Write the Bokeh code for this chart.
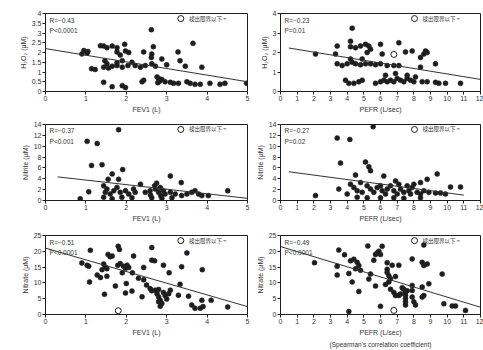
from bokeh.plotting import figure
from bokeh.layouts import column, row
from bokeh.models import Range1d, FixedTicker, Title
from bokeh.core.properties import value
from bokeh.embed import file_html
from bokeh.resources import INLINE

FONT = "Liberation Sans"
INK = "#1e1e1e"

# ---------------- data ----------------
fev1_ticks = [0, 1, 2, 3, 4, 5]
pefr_ticks = list(range(0, 13))
h2o2_left_ticks = [0, 0.5, 1, 1.5, 2, 2.5, 3, 3.5, 4]
h2o2_right_ticks = [0, 1, 2, 3, 4]
nitrite_ticks = [0, 2, 4, 6, 8, 10, 12, 14]
nitrate_ticks = [0, 5, 10, 15, 20, 25]

fev1_h2o2 = [(2.62, 3.17), (3.65, 2.47), (1.96, 2.42), (1.36, 2.35), (1.44, 2.33), (1.52, 2.25),
             (1.65, 2.33), (1.77, 2.25), (2.67, 2.30), (1.77, 2.03), (1.85, 1.87), (1.98, 2.08),
             (2.06, 2.00), (0.90, 1.92), (1.03, 1.97), (2.43, 2.03), (2.63, 1.92), (2.62, 1.75),
             (3.28, 2.03), (2.88, 1.67), (3.33, 1.58), (1.47, 1.58), (1.52, 1.42), (1.77, 1.47),
             (1.90, 1.58), (2.14, 1.50), (1.14, 1.17), (1.23, 1.13), (1.44, 1.25), (1.56, 1.20),
             (1.65, 1.30), (1.77, 1.33), (1.90, 1.25), (2.04, 1.33), (2.22, 1.33), (2.35, 1.25),
             (2.47, 1.33), (2.63, 1.42), (2.72, 1.30), (3.00, 1.37), (3.46, 1.30), (3.87, 1.25),
             (1.44, 0.47), (1.65, 0.25), (1.90, 0.30), (1.98, 0.20), (2.39, 0.50), (2.43, 0.58),
             (2.76, 0.75), (2.80, 0.67), (2.84, 0.58), (2.88, 0.62), (2.96, 0.50), (3.09, 0.47),
             (3.17, 0.42), (2.78, 0.45), (2.82, 0.52), (3.29, 0.42), (3.50, 0.50), (3.58, 0.42),
             (3.70, 0.37), (3.83, 0.37), (4.07, 0.42), (4.32, 0.37), (4.44, 0.42), (4.98, 0.42),
             (0.95, 2.10), (1.05, 2.05)]
fev1_h2o2_open = []

pefr_h2o2 = [(4.3, 3.25), (4.2, 2.58), (2.1, 1.92), (3.4, 2.33), (3.3, 1.92), (4.2, 2.30), (4.5, 2.25),
             (4.8, 2.33), (5.1, 2.42), (5.3, 2.33), (5.4, 2.17), (5.2, 2.00), (6.0, 2.42), (6.1, 1.92),
             (7.1, 2.50), (7.5, 2.03), (7.9, 2.08), (8.4, 1.75), (8.6, 1.92), (8.7, 2.08), (8.8, 2.00),
             (3.4, 1.42), (3.7, 1.33), (4.0, 1.42), (4.3, 1.50), (4.5, 1.42), (4.8, 1.37), (5.1, 1.42),
             (5.4, 1.42), (5.7, 1.37), (6.0, 1.42), (6.4, 1.33), (6.8, 1.33), (7.1, 1.33), (4.2, 1.67),
             (4.9, 1.67), (8.4, 1.25), (9.3, 1.42), (3.9, 0.58), (4.1, 0.42), (4.4, 0.42), (4.7, 0.50),
             (4.9, 0.58), (5.7, 0.42), (6.0, 0.50), (6.2, 0.58), (6.4, 0.50), (6.6, 0.58), (6.8, 0.50),
             (7.0, 0.67), (7.2, 0.58), (7.4, 0.50), (7.6, 0.67), (7.8, 0.58), (8.0, 0.50), (8.1, 0.75),
             (7.6, 0.83), (8.5, 0.50), (8.8, 0.50), (9.3, 0.47), (9.5, 0.42), (9.9, 0.42), (10.8, 0.42),
             (6.3, 0.83), (6.9, 0.92)]
pefr_h2o2_open = [(6.8, 1.9)]

fev1_nitrite = [(1.81, 13.05), (1.03, 10.9), (1.28, 10.5), (1.14, 6.46), (1.40, 6.6), (1.91, 5.7),
                (1.65, 4.9), (1.55, 3.9), (1.81, 3.9), (3.09, 4.5), (3.36, 3.3), (2.35, 3.0),
                (1.07, 1.6), (0.86, 0.3), (4.51, 1.8), (1.44, 2.7), (1.52, 2.1), (1.48, 1.5),
                (1.60, 1.2), (1.69, 1.8), (1.77, 2.4), (1.85, 1.5), (1.98, 1.8), (2.06, 1.2),
                (2.18, 2.1), (2.22, 1.5), (2.47, 1.5), (2.59, 1.8), (2.72, 2.1), (2.80, 1.5),
                (2.84, 2.4), (2.92, 1.8), (2.96, 1.2), (3.09, 1.5), (3.21, 1.2), (3.37, 0.9),
                (3.50, 1.2), (3.62, 1.5), (3.70, 1.8), (3.79, 1.2), (3.87, 0.9), (4.03, 0.9),
                (1.44, 0.6), (1.65, 0.3), (1.89, 0.6), (2.14, 0.5), (2.63, 0.5), (2.88, 0.4),
                (3.13, 0.5), (2.70, 2.7), (2.75, 3.2), (2.60, 1.0), (2.85, 0.9)]
fev1_nitrite_open = []

pefr_nitrite = [(5.56, 13.6), (3.4, 11.5), (4.16, 11.25), (3.6, 6.9), (5.1, 7.1), (5.3, 6.2), (5.4, 5.5),
                (4.5, 4.7), (6.2, 4.5), (9.4, 4.9), (8.8, 3.9), (8.4, 3.3), (6.9, 3.6), (2.1, 0.9),
                (3.5, 2.1), (10.8, 2.5), (10.2, 2.5), (4.0, 1.2), (4.2, 3.0), (4.4, 2.4), (4.6, 1.8),
                (4.8, 3.3), (4.9, 1.5), (5.2, 2.7), (5.4, 2.1), (5.6, 1.5), (5.8, 2.4), (6.0, 2.7),
                (6.1, 1.8), (6.3, 1.2), (6.4, 2.1), (6.6, 2.7), (6.8, 1.8), (7.0, 1.2), (7.1, 3.0),
                (7.2, 2.1), (7.4, 1.5), (7.6, 2.7), (7.7, 1.8), (7.8, 1.2), (7.9, 2.4), (8.0, 3.0),
                (8.2, 1.5), (8.4, 1.2), (8.6, 1.8), (8.9, 1.5), (9.3, 1.4), (9.6, 1.4), (9.9, 1.2),
                (4.6, 0.6), (5.2, 0.5), (6.0, 0.5), (6.8, 0.5), (7.4, 0.4), (8.4, 0.5)]
pefr_nitrite_open = []

fev1_nitrate = [(1.80, 21.6), (1.83, 20.6), (2.63, 21.2), (3.50, 19.5), (1.11, 20.3), (1.55, 19.0),
                (1.60, 18.3), (1.65, 18.5), (2.18, 18.5), (2.63, 17.2), (2.70, 17.0), (0.90, 16.3),
                (1.03, 15.6), (1.07, 15.3), (1.44, 16.0), (1.48, 15.0), (1.52, 14.5), (1.40, 14.2),
                (1.79, 15.6), (1.85, 16.1), (1.93, 15.3), (2.02, 15.6), (1.98, 14.6), (2.06, 14.9),
                (2.43, 14.9), (2.92, 15.6), (3.37, 15.1), (3.88, 14.2), (1.28, 12.5), (1.36, 11.7),
                (1.52, 12.1), (1.90, 13.2), (2.15, 13.2), (2.30, 11.5), (2.43, 11.0), (3.06, 13.2),
                (1.09, 10.3), (1.73, 9.0), (2.00, 9.8), (2.50, 9.3), (2.59, 8.2), (2.63, 7.5),
                (2.72, 7.7), (2.80, 7.9), (2.76, 6.6), (2.80, 5.6), (2.84, 4.5), (2.88, 3.5),
                (2.92, 7.0), (2.96, 6.0), (3.00, 4.9), (3.05, 6.6), (3.09, 7.7), (2.84, 2.6),
                (2.80, 4.0), (3.33, 9.6), (3.29, 6.1), (1.46, 6.4), (1.98, 6.8), (2.14, 7.4),
                (2.39, 5.6), (3.54, 5.8), (4.10, 4.5), (3.87, 4.5), (3.62, 3.0), (3.70, 2.0),
                (3.83, 2.0), (3.90, 2.5), (4.51, 2.4)]
fev1_nitrate_open = [(1.8, 1.2)]

pefr_nitrate = [(2.04, 16.4), (3.4, 15.3), (3.4, 12.5), (3.5, 20.4), (3.84, 18.9), (4.2, 17.0), (4.4, 17.5),
                (4.6, 16.5), (4.7, 15.5), (4.5, 14.5), (4.8, 14.0), (4.1, 13.0), (5.6, 17.2), (5.7, 19.0),
                (5.8, 19.5), (5.9, 20.0), (6.0, 19.0), (6.1, 21.6), (5.24, 21.7), (5.4, 12.8), (5.3, 11.2),
                (5.7, 9.0), (4.3, 10.3), (4.7, 7.3), (6.0, 2.6), (4.1, 0.95), (6.4, 16.4), (6.4, 14.3),
                (6.4, 13.3), (6.5, 12.3), (6.6, 11.3), (6.5, 10.3), (6.3, 9.5), (6.6, 8.0), (6.8, 7.0),
                (6.9, 6.0), (7.1, 6.0), (7.2, 6.5), (6.7, 15.6), (6.9, 12.0), (7.1, 15.6), (7.9, 17.6),
                (7.3, 8.5), (7.4, 8.0), (7.5, 7.0), (7.5, 6.0), (7.5, 5.0), (7.5, 4.0), (7.5, 3.0),
                (7.6, 7.5), (7.9, 7.6), (7.9, 5.5), (8.0, 4.0), (8.1, 3.0), (7.9, 9.2), (8.5, 16.5),
                (8.6, 15.5), (8.8, 16.0), (8.6, 22.0), (8.5, 8.7), (8.6, 6.0), (8.5, 5.5), (8.9, 9.7),
                (9.7, 12.8), (9.8, 3.4), (10.3, 2.7), (10.5, 2.7), (11.1, 1.3)]
pefr_nitrate_open = [(6.8, 1.3)]

# regression lines: (intercept, slope, x_start, x_end)
fit_fev1_h2o2 = (2.2, -0.34, 0.0, 5.0)
fit_pefr_h2o2 = (2.3, -0.14, 0.5, 12.0)
fit_fev1_nitrite = (4.6, -0.84, 0.3, 5.0)
fit_pefr_nitrite = (5.5, -0.41, 0.5, 11.0)
fit_fev1_nitrate = (21.0, -3.7, 0.0, 5.0)
fit_pefr_nitrate = (21.5, -1.6, 0.0, 12.0)

stats = {
    "fev1_h2o2": ("R=−0.43", "P<0.0001"),
    "pefr_h2o2": ("R=−0.23", "P=0.01"),
    "fev1_nitrite": ("R=−0.37", "P<0.001"),
    "pefr_nitrite": ("R=−0.27", "P=0.02"),
    "fev1_nitrate": ("R=−0.51", "P<0.0001"),
    "pefr_nitrate": ("R=−0.49", "P<0.0001"),
}
legend_text = "検出限界以下 ="
note_text = "(Spearman's correlation coefficient)"


def make(pairs, open_pts, xr, yr, xticks, yticks, xlabel, ylabel, st, fit,
         width, height, left, top, bottom, note=None):
    p = figure(width=width, height=height, output_backend="svg", toolbar_location=None,
               x_range=Range1d(*xr), y_range=Range1d(*yr),
               min_border_left=left, min_border_right=3,
               min_border_top=top, min_border_bottom=bottom)
    p.grid.visible = False
    p.outline_line_color = INK
    p.outline_line_width = 1
    p.outline_line_alpha = 1
    p.background_fill_color = "white"
    p.border_fill_color = "white"
    for ax in p.axis:
        ax.axis_line_color = INK
        ax.major_tick_line_color = INK
        ax.minor_tick_line_color = None
        ax.major_tick_out = 3
        ax.major_tick_in = 0
        ax.major_label_text_font_size = "7px"
        ax.major_label_text_font = FONT
        ax.major_label_text_color = "#333333"
        ax.axis_label_text_font_size = "7px"
        ax.axis_label_text_font = FONT
        ax.axis_label_text_font_style = "normal"
        ax.axis_label_text_color = "#333333"
        ax.major_label_standoff = 1
        ax.axis_label_standoff = 2
    p.xaxis.ticker = FixedTicker(ticks=xticks)
    p.yaxis.ticker = FixedTicker(ticks=yticks)
    p.xaxis.major_label_overrides = {t: f"{t:g}" for t in xticks}
    p.yaxis.major_label_overrides = {t: f"{t:g}" for t in yticks}
    p.xaxis.axis_label = xlabel
    p.yaxis.axis_label = ylabel

    xs = [a for a, b in pairs]
    ys = [b for a, b in pairs]
    p.scatter(xs, ys, size=5, fill_color=INK, line_color=INK, line_width=0.5)
    if open_pts:
        p.scatter([a for a, b in open_pts], [b for a, b in open_pts], size=6,
                  fill_color="white", line_color=INK, line_width=1)

    a, b, x0, x1 = fit
    p.line([x0, x1], [a + b * x0, a + b * x1], line_color="#333333", line_width=1)

    xw = xr[1] - xr[0]
    yh = yr[1] - yr[0]
    tx = xr[0] + 0.02 * xw
    p.text([tx], [yr[0] + 0.915 * yh], text=[st[0]], text_font=value(FONT),
           text_font_size="6.5px", text_color="#333333", text_baseline="middle")
    p.text([tx], [yr[0] + 0.78 * yh], text=[st[1]], text_font=value(FONT),
           text_font_size="6.5px", text_color="#333333", text_baseline="middle")

    lx = xr[0] + 0.67 * xw
    ly = yr[0] + 0.935 * yh
    p.scatter([lx], [ly], size=6, fill_color="white", line_color=INK, line_width=1)
    p.text([lx + 0.04 * xw], [ly], text=[legend_text], text_font=value("Noto Sans CJK JP"),
           text_font_size="5.5px", text_color="#333333", text_baseline="middle")

    if note:
        p.add_layout(Title(text=note, align="center", text_font_size="6.5px",
                           text_font=FONT, text_font_style="normal", text_color="#333333",
                           standoff=1), "below")
    return p


LW, RW = 250, 233
h2o2_label = "H₂O₂ (μM)"
nitrite_label = "Nitrite (μM)"
nitrate_label = "Nitrate (μM)"
fev1_label = "FEV1 (L)"
pefr_label = "PEFR (L/sec)"

p1 = make(fev1_h2o2, fev1_h2o2_open, (0, 5), (0, 4), fev1_ticks, h2o2_left_ticks,
          fev1_label, h2o2_label, stats["fev1_h2o2"], fit_fev1_h2o2, LW, 115, 45, 13, 22)
p2 = make(pefr_h2o2, pefr_h2o2_open, (0, 12), (0, 4), pefr_ticks, h2o2_right_ticks,
          pefr_label, h2o2_label, stats["pefr_h2o2"], fit_pefr_h2o2, RW, 115, 30, 13, 22)
p3 = make(fev1_nitrite, fev1_nitrite_open, (0, 5), (0, 14), fev1_ticks, nitrite_ticks,
          fev1_label, nitrite_label, stats["fev1_nitrite"], fit_fev1_nitrite, LW, 109, 45, 9, 22)
p4 = make(pefr_nitrite, pefr_nitrite_open, (0, 12), (0, 14), pefr_ticks, nitrite_ticks,
          pefr_label, nitrite_label, stats["pefr_nitrite"], fit_pefr_nitrite, RW, 109, 30, 9, 22)
p5 = make(fev1_nitrate, fev1_nitrate_open, (0, 5), (0, 25), fev1_ticks, nitrate_ticks,
          fev1_label, nitrate_label, stats["fev1_nitrate"], fit_fev1_nitrate, LW, 126, 45, 11, 36)
p6 = make(pefr_nitrate, pefr_nitrate_open, (0, 12), (0, 25), pefr_ticks, nitrate_ticks,
          pefr_label, nitrate_label, stats["pefr_nitrate"], fit_pefr_nitrate, RW, 126, 30, 11, 36,
          note=note_text)

layout = column(row(p1, p2), row(p3, p4), row(p5, p6))
open("out.html", "w").write(file_html(layout, INLINE))
